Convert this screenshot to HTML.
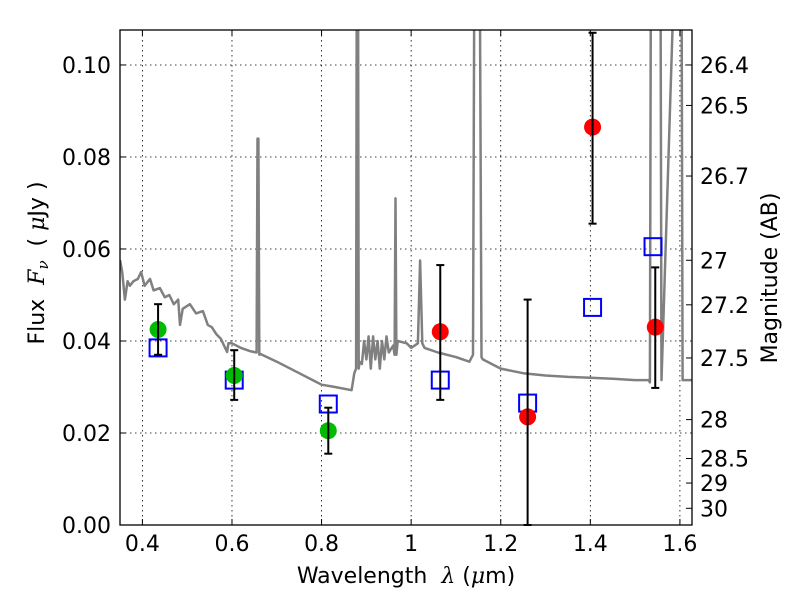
<!DOCTYPE html>
<html><head><meta charset="utf-8"><style>
body{margin:0;background:#fff;}
svg text{font-family:"DejaVu Sans","Liberation Sans",sans-serif;white-space:pre;}
</style></head><body>
<svg id="chart" width="800" height="600" xmlns="http://www.w3.org/2000/svg">
<defs><clipPath id="plotclip"><rect x="120" y="30" width="572" height="495"/></clipPath></defs>
<rect x="0" y="0" width="800" height="600" fill="#fff"/>
<g id="grid"></g>
<g id="spec" clip-path="url(#plotclip)"></g>
<g id="marks"></g>
<rect x="120" y="30" width="572" height="495" fill="none" stroke="#000" stroke-width="1.3"/>
<g id="axes"></g>
<text x="406" y="583" font-size="22" text-anchor="middle">Wavelength  <tspan font-family="DejaVu Serif" font-style="italic">λ</tspan> (<tspan font-family="DejaVu Serif" font-style="italic">μ</tspan>m)</text>
<text transform="translate(44,263) rotate(-90)" font-size="22" text-anchor="middle">Flux  <tspan font-family="DejaVu Serif" font-style="italic">F<tspan font-size="15" dy="4">ν</tspan></tspan><tspan dy="-4">  ( </tspan><tspan font-family="DejaVu Serif" font-style="italic">μ</tspan>Jy )</text>
<text transform="translate(777,278) rotate(-90)" font-size="22" text-anchor="middle">Magnitude (AB)</text>
</svg>
<script>
const xTicks=[0.4,0.6,0.8,1.0,1.2,1.4,1.6];
const xTickLabels=["0.4","0.6","0.8","1","1.2","1.4","1.6"];
const yTicks=[0,0.02,0.04,0.06,0.08,0.10];
const yTickLabels=["0.00","0.02","0.04","0.06","0.08","0.10"];
const magTicks=[26.4,26.5,26.7,27,27.2,27.5,28,28.5,29,30];
const magLabels=["26.4","26.5","26.7","27","27.2","27.5","28","28.5","29","30"];
const greenX=[0.435,0.605,0.815];
const greenY=[0.0425,0.0325,0.0205];
const greenLo=[0.037,0.0272,0.0155];
const greenHi=[0.048,0.038,0.0255];
const redX=[1.065,1.26,1.405,1.545];
const redY=[0.042,0.0235,0.0865,0.043];
const redLo=[0.0272,0.0,0.0655,0.0298];
const redHi=[0.0565,0.049,0.107,0.056];
const boxX=[0.435,0.605,0.815,1.065,1.26,1.405,1.54];
const boxY=[0.0385,0.0315,0.0263,0.0315,0.0265,0.0473,0.0605];
const specLam=[0.35,0.355,0.361,0.367,0.372,0.38,0.39,0.397,0.405,0.417,0.425,0.439,0.45,0.46,0.47,0.48,0.484,0.49,0.506,0.52,0.535,0.546,0.555,0.565,0.575,0.589,0.592,0.6,0.62,0.64,0.655,0.657,0.659,0.661,0.663,0.7,0.75,0.8,0.83,0.867,0.873,0.877,0.879,0.881,0.883,0.885,0.89,0.895,0.9,0.905,0.91,0.915,0.92,0.925,0.93,0.935,0.94,0.945,0.95,0.96,0.963,0.965,0.967,0.97,0.99,1.0,1.015,1.02,1.025,1.03,1.06,1.1,1.13,1.138,1.142,1.152,1.157,1.16,1.2,1.25,1.3,1.35,1.4,1.45,1.5,1.53,1.533,1.536,1.553,1.556,1.559,1.597,1.6,1.603,1.606,1.627];
const specFlux=[0.0576,0.055,0.049,0.053,0.052,0.053,0.0535,0.055,0.052,0.0535,0.051,0.0515,0.0495,0.05,0.048,0.049,0.0435,0.047,0.048,0.046,0.0465,0.0435,0.043,0.0415,0.0405,0.0376,0.0395,0.0395,0.0385,0.0378,0.0375,0.084,0.084,0.037,0.0372,0.0355,0.033,0.0305,0.030,0.0293,0.033,0.034,0.15,0.15,0.034,0.0355,0.035,0.04,0.036,0.041,0.034,0.041,0.036,0.04,0.034,0.04,0.036,0.041,0.0375,0.039,0.037,0.071,0.037,0.04,0.0395,0.0385,0.0395,0.0575,0.0395,0.0385,0.0375,0.0365,0.0355,0.037,0.15,0.15,0.0365,0.036,0.034,0.033,0.0325,0.0322,0.032,0.0318,0.0315,0.0315,0.031,0.15,0.15,0.15,0.0315,0.15,0.15,0.15,0.0315,0.0315];
const NS='http://www.w3.org/2000/svg';
const X0=120,X1=692,Y0=525,Y1=30,LMIN=0.35,LMAX=1.627,FMAX=0.1076;
function xs(v){return X0+(v-LMIN)/(LMAX-LMIN)*(X1-X0);}
function ys(v){return Y0-v/FMAX*(Y0-Y1);}
function mk(t,a,p){const e=document.createElementNS(NS,t);for(const k in a)e.setAttribute(k,a[k]);p.appendChild(e);return e;}
const grid=document.getElementById('grid'),axes=document.getElementById('axes'),spec=document.getElementById('spec'),marks=document.getElementById('marks');
xTicks.forEach((v,i)=>{const x=xs(v);
 const g=mk('line',{x1:x,x2:x,y1:Y1,y2:Y0,stroke:'#000','stroke-width':0.8,'stroke-dasharray':'1.5,3.5'},grid);
 
 mk('line',{x1:x,x2:x,y1:Y0,y2:Y0-6,stroke:'#000'},axes);mk('line',{x1:x,x2:x,y1:Y1,y2:Y1+6,stroke:'#000'},axes);
 const t=mk('text',{x:x,y:551,'font-size':22,'text-anchor':'middle'},axes);t.textContent=xTickLabels[i];
 });
yTicks.forEach((v,i)=>{const y=ys(v);
 const g=mk('line',{x1:X0,x2:X1,y1:y,y2:y,stroke:'#000','stroke-width':0.8,'stroke-dasharray':'1.5,3.5'},grid);
 
 mk('line',{x1:X0,x2:X0+6,y1:y,y2:y,stroke:'#000'},axes);
 const t=mk('text',{x:111,y:y+8,'font-size':22,'text-anchor':'end'},axes);t.textContent=yTickLabels[i];
 });
magTicks.forEach((m,i)=>{const f=Math.pow(10,(23.9-m)/2.5);const y=ys(f);
 mk('line',{x1:X1,x2:X1-6,y1:y,y2:y,stroke:'#000'},axes);
 const t=mk('text',{x:700,y:y+8,'font-size':22},axes);t.textContent=magLabels[i];
 });
const pts=specLam.map((l,i)=>xs(l).toFixed(1)+','+ys(specFlux[i]).toFixed(1)).join(' ');
const pl=mk('polyline',{points:pts,fill:'none',stroke:'#808080','stroke-width':2.5,'stroke-linejoin':'round'},spec);

boxX.forEach((v,i)=>{const r=mk('rect',{x:xs(v)-8.5,y:ys(boxY[i])-8.5,width:17,height:17,fill:'none',stroke:'#0000ff','stroke-width':2},marks);
 });
function errbar(x,lo,hi){const X=xs(x);
 const g=mk('g',{stroke:'#000','stroke-width':2},marks);
 
 mk('line',{x1:X,x2:X,y1:ys(lo),y2:ys(hi)},g);mk('line',{x1:X-4,x2:X+4,y1:ys(lo),y2:ys(lo)},g);mk('line',{x1:X-4,x2:X+4,y1:ys(hi),y2:ys(hi)},g);}
greenX.forEach((v,i)=>{const c=mk('circle',{cx:xs(v),cy:ys(greenY[i]),r:8.5,fill:'#00bb00'},marks);
 errbar(v,greenLo[i],greenHi[i]);});
redX.forEach((v,i)=>{const c=mk('circle',{cx:xs(v),cy:ys(redY[i]),r:8.5,fill:'#ff0000'},marks);
 errbar(v,redLo[i],redHi[i]);});
</script>
</body></html>
